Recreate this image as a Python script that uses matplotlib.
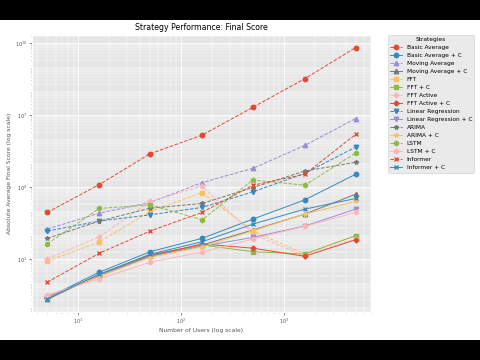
import numpy as np
import matplotlib
matplotlib.use("Agg")
import matplotlib.pyplot as plt
from matplotlib.patches import Rectangle
from matplotlib.ticker import LogLocator

# number of users (x axis)
users = [5, 16, 50, 160, 500, 1600, 5000]

labels = [
    "Basic Average", "Basic Average + C", "Moving Average", "Moving Average + C",
    "FFT", "FFT + C", "FFT Active", "FFT Active + C",
    "Linear Regression", "Linear Regression + C", "ARIMA", "ARIMA + C",
    "LSTM", "LSTM + C", "Informer", "Informer + C",
]

basic_avg = [870, 1.26e4, 2.43e5, 1.44e6, 2.09e7, 3.24e8, 6.45e9]
basic_avg_c = [0.24, 2.8, 20, 72, 457, 2890, 3.37e4]
moving_avg = [176, 811, 2250, 1.52e4, 5.97e4, 5.37e5, 7.1e6]
moving_avg_c = [0.205, 2.17, 14.7, 38, 160, 736, 4980]
fft = [8.0, 51, 953, 5860, 145, 16, 93]
fft_c = [0.24, 1.97, 12.9, 38, 20, 16, 93]
fft_active = [10, 84, 2480, 1.1e4, 109, 13.3, 68]
fft_active_c = [0.26, 1.91, 13.3, 42, 28, 12.9, 63]
lin_reg = [145, 378, 689, 1400, 6210, 3.7e4, 4.57e5]
lin_reg_c = [0.26, 1.97, 12.9, 33.6, 79, 234, 1190]
arima = [72, 378, 1306, 2047, 9440, 4.61e4, 1.06e5]
arima_c = [0.24, 1.91, 11.5, 31.5, 149, 736, 2480]
lstm = [43, 1270, 1790, 428, 1.95e4, 1.18e4, 2.58e5]
lstm_c = [0.32, 1.48, 7.3, 19, 68, 228, 867]
informer = [1.08, 17.3, 145, 867, 1.18e4, 3.37e4, 1.54e6]
informer_c = [0.22, 2.32, 15.7, 52, 283, 1190, 3300]

series = [
    basic_avg, basic_avg_c, moving_avg, moving_avg_c, fft, fft_c,
    fft_active, fft_active_c, lin_reg, lin_reg_c, arima, arima_c,
    lstm, lstm_c, informer, informer_c,
]
markers = ["o", "^", "s", "P", "v", "*", "h", "x"]

plt.style.use("ggplot")
fig = plt.figure(figsize=(4.8, 3.6), dpi=100, facecolor="black")
# white page inside the letterboxed frame
fig.add_artist(Rectangle((0, 20 / 360), 1, 320 / 360, transform=fig.transFigure,
                         facecolor="white", edgecolor="none", zorder=0))
ax = fig.add_axes([32 / 480, 48 / 360, 339 / 480, 277 / 360])

for i, (label, vals) in enumerate(zip(labels, series)):
    ax.plot(users, vals, marker=markers[i // 2], linestyle="--" if i % 2 == 0 else "-",
            markersize=3.2, linewidth=0.7, label=label)

ax.set_xscale("log")
ax.set_yscale("log")
ax.set_yticks([1e1, 1e4, 1e7, 1e10])
ax.yaxis.set_minor_locator(LogLocator(base=10, subs=np.arange(2, 10), numticks=100))
ax.grid(True, which="major", color="white", linewidth=0.6)
ax.grid(True, which="minor", color="white", linewidth=0.35)
ax.tick_params(which="major", labelsize=3.5, length=2, width=0.5, pad=1.5)
ax.tick_params(which="minor", length=1, width=0.4)

ax.set_title("Strategy Performance: Final Score", fontsize=5.6, pad=3.5)
ax.set_xlabel("Number of Users (log scale)", fontsize=4.3, labelpad=1.5)
ax.set_ylabel("Absolute Average Final Score (log scale)", fontsize=4.3, labelpad=2)

leg = ax.legend(title="Strategies", loc="upper left", bbox_to_anchor=(1.05, 1.0),
                fontsize=4.2, title_fontsize=4.2, borderaxespad=0)

fig.savefig("out.png", dpi=100, facecolor=fig.get_facecolor())
